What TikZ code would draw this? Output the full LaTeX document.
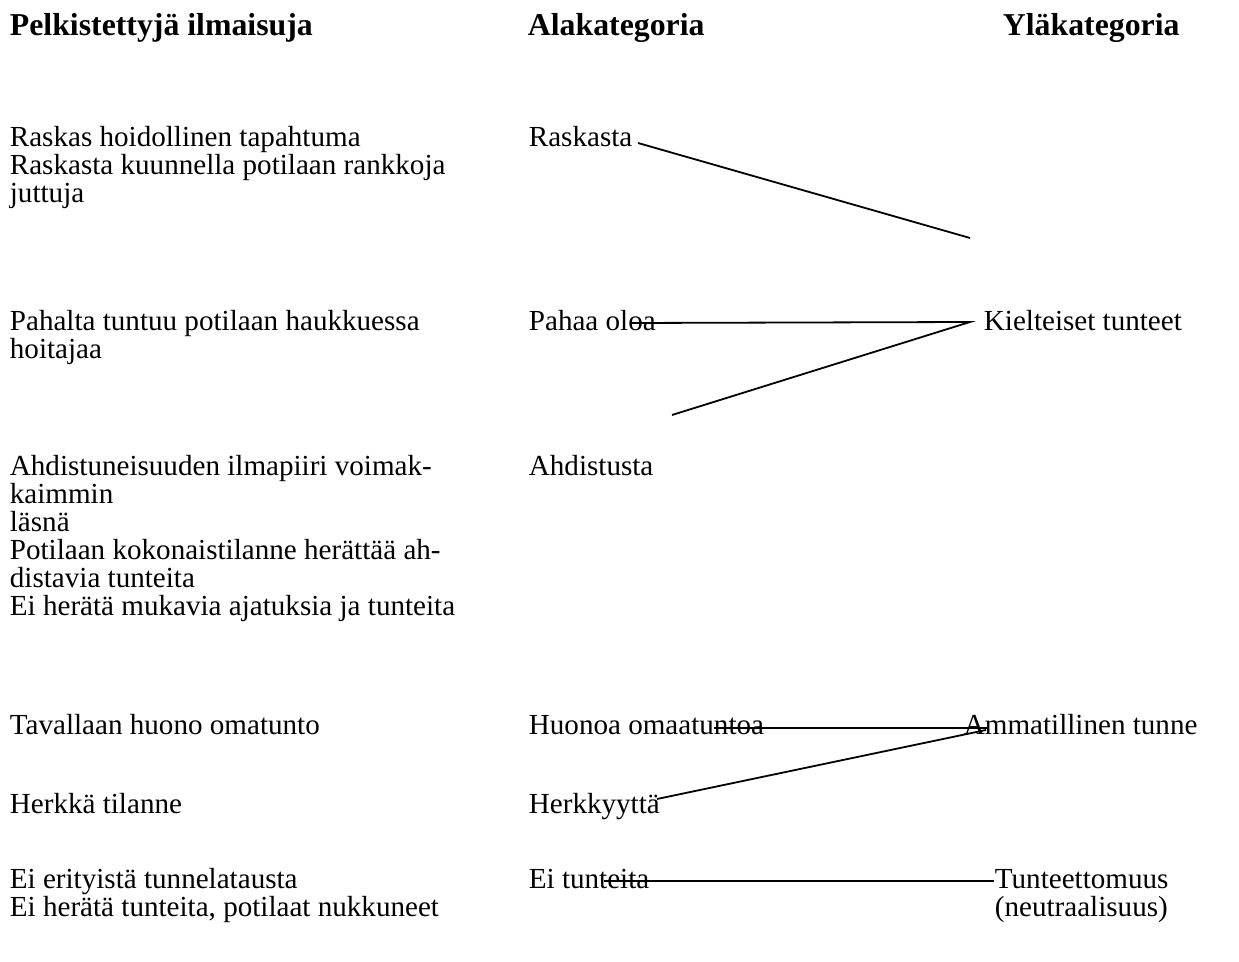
\documentclass[tikz,border=0pt]{standalone}
\usepackage{fontspec}
\setmainfont{Liberation Serif}
\usetikzlibrary{positioning}

\begin{document}
\begin{tikzpicture}[x=0.5pt,y=-0.5pt,
    every node/.style={anchor=base west,inner sep=0pt,align=left,font=\fontsize{14.55}{14}\selectfont},
    every path/.style={line width=0.9pt}]
    \useasboundingbox (0,0) rectangle (1239,962);

    % headers
    \node[font=\fontsize{15.9}{16}\selectfont\bfseries] (pelk) at (9,36) {Pelkistettyjä ilmaisuja};
    \node[font=\fontsize{15.9}{16}\selectfont\bfseries] (ala) at (527,36) {Alakategoria};
    \node[font=\fontsize{15.9}{16}\selectfont\bfseries] (yla) at (1002,36) {Yläkategoria};

    % base of a multi-line node = baseline of its last line
    \node (ilm1) at (9,203) {Raskas hoidollinen tapahtuma \\ Raskasta kuunnella potilaan rankkoja \\ juttuja};
    \node (ilm2) at (9,359) {Pahalta tuntuu potilaan haukkuessa \\ hoitajaa};
    \node (ilm3) at (9,616) {Ahdistuneisuuden ilmapiiri voimak- \\ kaimmin \\ läsnä \\ Potilaan kokonaistilanne herättää ah- \\ distavia tunteita \\ Ei herätä mukavia ajatuksia ja tunteita};
    \node (ilm4) at (9,735) {Tavallaan huono omatunto};
    \node (ilm5) at (9,814) {Herkkä tilanne};
    \node (ilm6) at (9,917) {Ei erityistä tunnelatausta \\ Ei herätä tunteita, potilaat nukkuneet};

    \node (raskasta) at (528,147) {Raskasta};
    \node (paha) at (528,331) {Pahaa oloa};
    \node (ahdistus) at (528,476) {Ahdistusta};
    \node (huono) at (528,735) {Huonoa omaatuntoa};
    \node (herkkyys) at (528,814) {Herkkyyttä};
    \node (eitunt) at (528,889) {Ei tunteita};

    \node (kielt) at (983,331) {Kielteiset tunteet};
    \node (ammat) at (963,735) {Ammatillinen tunne};
    \node (neutr) at (994,917) {Tunteettomuus \\ (neutraalisuus)};

    \coordinate (r1) at (638,143);
    \coordinate (r2) at (970,238);
    \coordinate (p1) at (632,323);
    \coordinate (k1) at (970,322);
    \coordinate (a1) at (672,415);
    \coordinate (h1) at (714,728);
    \coordinate (m1) at (988,728);
    \coordinate (m2) at (986,730);
    \coordinate (s1) at (657,799);
    \coordinate (e1) at (604,881);

    \draw (r1) -- (r2);
    \draw (p1) -- (k1) -- (a1);
    \draw (h1) -- (m1);
    \draw (s1) -- (m2);
    \draw (e1) -- (e1 -| neutr.west);
\end{tikzpicture}
\end{document}
